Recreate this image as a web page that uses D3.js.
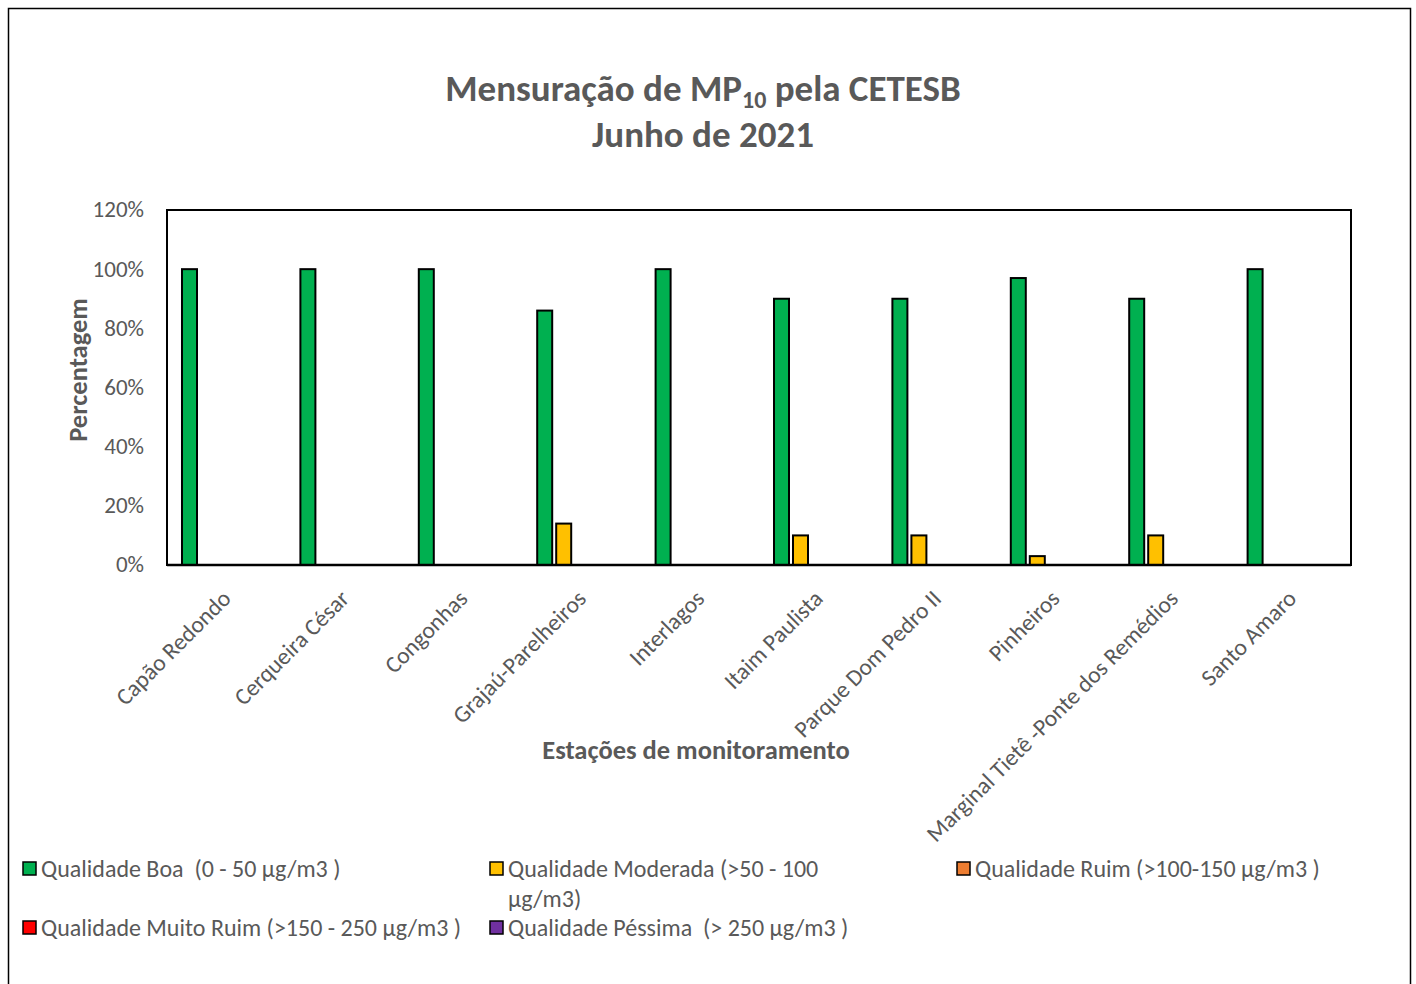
<!DOCTYPE html>
<html>
<head>
<meta charset="utf-8">
<script src="https://cdn.jsdelivr.net/npm/d3@7"></script>
<style>
  body { margin: 0; background: #fff; }
  text { font-family: Carlito, Lato, "Open Sans", sans-serif; white-space: pre; }
</style>
</head>
<body>
<div id="chart"></div>
<script>
// stations on the x axis
var stations = ["Capão Redondo", "Cerqueira César", "Congonhas", "Grajaú-Parelheiros",
    "Interlagos", "Itaim Paulista", "Parque Dom Pedro II", "Pinheiros",
    "Marginal Tietê -Ponte dos Remédios", "Santo Amaro"];

var seriesNames = ["Qualidade Boa  (0 - 50 µg/m3 )", "Qualidade Moderada (>50 - 100 µg/m3)",
    "Qualidade Ruim (>100-150 µg/m3 )", "Qualidade Muito Ruim (>150 - 250 µg/m3 )",
    "Qualidade Péssima  (> 250 µg/m3 )"];
var seriesColors = ["#00b050", "#ffc000", "#ed7d31", "#ff0000", "#7030a0"];

// percentages per station
var boa       = [100, 100, 100, 86, 100, 90, 90, 97, 90, 100];
var moderada  = [0, 0, 0, 14, 0, 10, 10, 3, 10, 0];
var ruim      = [0, 0, 0, 0, 0, 0, 0, 0, 0, 0];
var muitoRuim = [0, 0, 0, 0, 0, 0, 0, 0, 0, 0];
var pessima   = [0, 0, 0, 0, 0, 0, 0, 0, 0, 0];
var allSeries = [boa, moderada, ruim, muitoRuim, pessima];

var yTicks = [0, 20, 40, 60, 80, 100, 120];

var W = 1416, H = 984;
var plot = { left: 167, right: 1351, top: 210, bottom: 565 };

var svg = d3.select('#chart').append('svg')
    .attr('width', W)
    .attr('height', H);

// outer chart frame
svg.append('rect')
    .attr('x', 8.5).attr('y', 8.5)
    .attr('width', 1402).attr('height', 990)
    .attr('fill', '#fff')
    .attr('stroke', '#000')
    .attr('stroke-width', 1.5);

// title
var title = svg.append('text')
    .attr('x', 703).attr('y', 101)
    .attr('text-anchor', 'middle')
    .attr('fill', '#595959')
    .style('font-size', '37px')
    .style('font-weight', 'bold');
title.append('tspan').text('Mensuração de MP');
title.append('tspan').attr('dy', 7).style('font-size', '24px').text('10');
title.append('tspan').attr('dy', -7).text(' pela CETESB');
svg.append('text')
    .attr('x', 703).attr('y', 147)
    .attr('text-anchor', 'middle')
    .attr('fill', '#595959')
    .style('font-size', '37px')
    .style('font-weight', 'bold')
    .text('Junho de 2021');

var x0 = d3.scaleBand()
    .domain(stations)
    .range([plot.left, plot.right]);

var x1 = d3.scaleBand()
    .domain(d3.range(seriesNames.length))
    .range([13, 13 + 95]);

var y = d3.scaleLinear()
    .domain([0, 120])
    .range([plot.bottom, plot.top]);

// plot area box
svg.append('rect')
    .attr('x', plot.left).attr('y', plot.top)
    .attr('width', plot.right - plot.left)
    .attr('height', plot.bottom - plot.top)
    .attr('fill', 'none')
    .attr('stroke', '#000')
    .attr('stroke-width', 2);

// y axis labels
var yAxis = d3.axisLeft(y)
    .tickValues(yTicks)
    .tickSize(0)
    .tickPadding(23)
    .tickFormat(function(d) { return d + '%'; });
var yg = svg.append('g')
    .attr('transform', 'translate(' + plot.left + ',0)')
    .call(yAxis);
yg.select('.domain').remove();
yg.selectAll('text')
    .attr('fill', '#595959')
    .attr('dy', '0.3em')
    .style('font-size', '23px')
    .style('font-family', 'Carlito, Lato, sans-serif');

// bars
var groups = svg.append('g').selectAll('g')
    .data(stations)
    .enter().append('g')
    .attr('transform', function(d) { return 'translate(' + x0(d) + ',0)'; });

groups.selectAll('rect')
    .data(function(d, i) {
        return allSeries.map(function(s, k) { return { k: k, v: s[i] }; })
            .filter(function(e) { return e.v > 0; });
    })
    .enter().append('rect')
    .attr('x', function(d) { return x1(d.k) + 2; })
    .attr('width', x1.bandwidth() - 4)
    .attr('y', function(d) { return y(d.v); })
    .attr('height', function(d) { return y(0) - y(d.v); })
    .attr('fill', function(d) { return seriesColors[d.k]; })
    .attr('stroke', '#000')
    .attr('stroke-width', 2);

// baseline redrawn over bars
svg.append('line')
    .attr('x1', plot.left).attr('x2', plot.right)
    .attr('y1', plot.bottom).attr('y2', plot.bottom)
    .attr('stroke', '#000')
    .attr('stroke-width', 2.5);

// x axis labels, rotated
var xAxis = d3.axisBottom(x0).tickSize(0).tickPadding(0);
var xg = svg.append('g')
    .attr('transform', 'translate(0,' + plot.bottom + ')')
    .call(xAxis);
xg.select('.domain').remove();
xg.selectAll('text')
    .attr('fill', '#595959')
    .style('font-size', '23.5px')
    .style('font-family', 'Carlito, Lato, sans-serif')
    .attr('text-anchor', 'end')
    .attr('dy', 0)
    .attr('transform', 'translate(6,35) rotate(-45)');

// axis titles
svg.append('text')
    .attr('transform', 'translate(87,370) rotate(-90)')
    .attr('text-anchor', 'middle')
    .attr('fill', '#595959')
    .style('font-size', '26.5px')
    .style('font-weight', 'bold')
    .text('Percentagem');

svg.append('text')
    .attr('x', 696).attr('y', 759)
    .attr('text-anchor', 'middle')
    .attr('fill', '#595959')
    .style('font-size', '26.5px')
    .style('font-weight', 'bold')
    .text('Estações de monitoramento');

// legend
var legendPos = [[22, 869], [489, 869], [956, 869], [22, 928], [489, 928]];
var lg = svg.append('g').selectAll('g')
    .data(seriesNames)
    .enter().append('g')
    .attr('transform', function(d, i) {
        return 'translate(' + legendPos[i][0] + ',' + legendPos[i][1] + ')';
    });
lg.append('rect')
    .attr('x', 1).attr('y', -7)
    .attr('width', 13).attr('height', 13)
    .attr('fill', function(d, i) { return seriesColors[i]; })
    .attr('stroke', '#000')
    .attr('stroke-width', 1.5);
lg.append('text')
    .attr('x', 19).attr('y', 8)
    .attr('fill', '#595959')
    .style('font-size', '24px')
    .each(function(d, i) {
        var t = d3.select(this);
        if (i === 1) {
            t.append('tspan').attr('x', 19).text('Qualidade Moderada (>50 - 100');
            t.append('tspan').attr('x', 19).attr('dy', 30).text('µg/m3)');
        } else {
            t.text(d);
        }
    });
</script>
</body>
</html>
